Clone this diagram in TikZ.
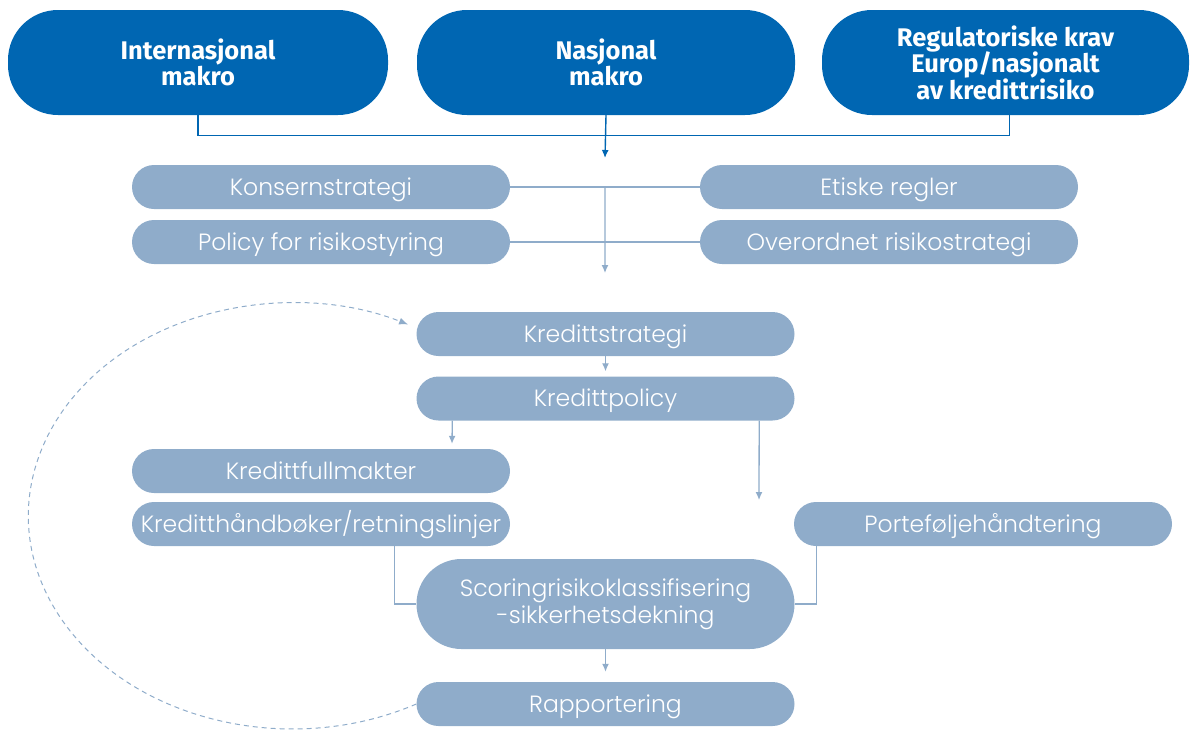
\documentclass[tikz,border=0pt]{standalone}
\usepackage{fontspec}
\setmainfont{Poppins}[UprightFont=* Light]
\newfontfamily\topfont{Fira Sans}
\usetikzlibrary{arrows.meta,calc}
\definecolor{dblue}{RGB}{0,102,178}
\definecolor{lblue}{RGB}{143,172,202}
\begin{document}
\begin{tikzpicture}[x=1pt,y=-1pt,
  topbox/.style={fill=dblue, rounded corners=50pt, minimum height=105pt, inner sep=0pt, align=center, text=white, font=\topfont\bfseries\fontsize{25.5}{26.5}\selectfont},
  lbox/.style={fill=lblue, rounded corners=22pt, minimum height=44pt, minimum width=378pt, inner sep=0pt, text=white, font=\fontsize{23.5}{26.5}\selectfont},
  one/.style={text height=16pt, text depth=0pt},
  dconn/.style={draw=dblue, line width=1.4pt},
  darr/.style={dconn, -{Latex[length=8pt,width=7pt]}},
  conn/.style={draw=lblue, line width=1.3pt},
  arr/.style={conn, -{Latex[length=8pt,width=7pt]}}
]
\useasboundingbox (0,0) rectangle (1190,729);

% top row
\node[topbox, minimum width=380pt] (im) at (198,62.5) {Internasjonal\\makro};
\node[topbox, minimum width=378pt] (nm) at (606,62.5) {Nasjonal\\makro};
\node[topbox, minimum width=367pt] (rk) at (1005.5,62.5) {Regulatoriske krav\\Europ/nasjonalt\\av kredittrisiko};

\draw[dconn] (im.south) -- ++(0,20) -| ($(rk.south)+(4,0)$);
\coordinate (t1) at (605,158);
\draw[darr] (nm.south) -- (t1);

% second group
\node[lbox, one] (ko) at (321,187) {Konsernstrategi};
\node[lbox, one] (po) at (321,242) {Policy for risikostyring};
\node[lbox, one] (et) at (889,187) {Etiske regler};
\node[lbox, one] (ov) at (889,242) {Overordnet risikostrategi};
\draw[conn] (ko.east) -- (et.west);
\draw[conn] (po.east) -- (ov.west);
\coordinate (t2) at (605,273);
\draw[arr] ($(ko.east)!0.5!(et.west)$) -- (t2);

% credit chain
\node[lbox, one] (ks) at (605.5,334) {Kredittstrategi};
\node[lbox, one] (kp) at (605.5,398.5) {Kredittpolicy};
\node[lbox, one] (kf) at (321,471) {Kredittfullmakter};
\node[lbox, one] (kh) at (321,524) {Kreditthåndbøker/retningslinjer};
\node[lbox, one] (pf) at (983,524) {Porteføljehåndtering};
\node[lbox, minimum height=90pt, rounded corners=45pt, align=center] (sc) at (605.5,604) {Scoringrisikoklassifisering\\-sikkerhetsdekning};
\node[lbox, one] (rap) at (605.5,704) {Rapportering};

\draw[arr] (ks.south) -- ($(kp.north)+(0,-5)$);
\draw[arr] ($(kp.south west)+(36,0)$) -- ($(kf.north)+(131,-5)$);
\coordinate (t3) at (759,500);
\draw[arr] ($(kp.south east)+(-35.5,0)$) -- (t3);
\draw[conn] ($(kh.south east)+(-116,0)$) |- (sc.west);
\draw[conn] ($(pf.south west)+(23,0)$) |- (sc.east);
\draw[arr] (sc.south) -- ($(rap.north)+(0,-10)$);

% feedback loop
\draw[draw=lblue, line width=1pt, dash pattern=on 5pt off 4pt, -{Latex[length=9pt,width=7pt]}]
  (rap.west) arc[start angle=62, end angle=296, x radius=264, y radius=213];
\end{tikzpicture}
\end{document}
